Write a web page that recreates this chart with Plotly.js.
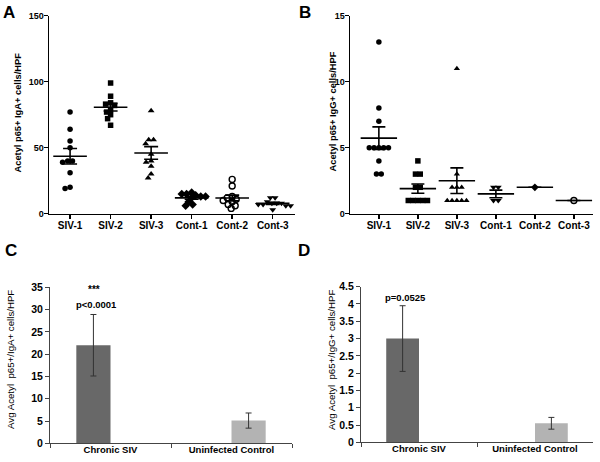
<!DOCTYPE html>
<html><head><meta charset="utf-8">
<script src="https://cdn.plot.ly/plotly-3.0.1.min.js"></script>
<style>html,body{margin:0;padding:0;background:#fff}#chart{width:600px;height:462px}</style>
</head><body><div id="chart"></div>
<script>
// ---------- data ----------
const groupsAB = ['SIV-1','SIV-2','SIV-3','Cont-1','Cont-2','Cont-3'];
// Panel A: Acetyl p65+ IgA+ cells/HPF
const A_siv1  = [77,64,55,50,40,39,40,31,20,19];
const A_siv2  = [99,89,84,83,82,79,77,75,72,67];
const A_siv3  = [78,56,56,53,45,40,39,36,30,27];
const A_cont1 = [16,15,15,14,13,13,12,9,7,6];
const A_cont2 = [26,21,13,12,11,10,9,7,6,4];
const A_cont3 = [12,12,9,8,8,8,7,7,6,6,3];
// Panel B: Acetyl p65+ IgG+ cells/HPF
const B_siv1  = [13,8,7,5,5,5,5,5,4,3,3];
const B_siv2  = [4,3,3,2,2,1,1,1,1,1];
const B_siv3  = [11,3,2,2,2,1,1,1,1,1];
const B_cont1 = [2,2,1,1];
const B_cont2 = [2];
const B_cont3 = [1];
// Panels C & D
const barCats = ['Chronic SIV','Uninfected Control'];
const C_means = [22.0, 5.1];
const C_err   = [6.9, 1.7];
const D_means = [3.0, 0.55];
const D_err   = [0.95, 0.17];

// ---------- layout geometry ----------
const W=600,H=462;
const FONT='Liberation Sans, Arial, sans-serif';
const px=(x)=>x/W, py=(y)=>(H-y)/H;
const A_dom={x:[49,295], y:[15.7,213.7], xr:[-0.52,5.55], yr:[0,150]};
const B_dom={x:[350,593], y:[15.7,213.7], xr:[-0.74,5.49], yr:[0,15]};
const C_dom={x:[50,292], y:[287.3,443.3]};
const D_dom={x:[361,593], y:[286.7,442.3]};

function mean(a){return a.reduce((s,v)=>s+v,0)/a.length;}
function sem(a){ if(a.length<2) return 0; const m=mean(a); const v=a.reduce((s,x)=>s+(x-m)*(x-m),0)/(a.length-1); return Math.sqrt(v/a.length);}

// beeswarm spread (pixel-space collision avoidance), returns x data positions
function swarm(vals, center, pxX, pxY, d){
  const idx=vals.map((v,i)=>i).sort((a,b)=>vals[b]-vals[a]);
  const placed=[]; const xs=new Array(vals.length);
  let i=0;
  while(i<idx.length){
    let j=i; while(j<idx.length && vals[idx[j]]===vals[idx[i]]) j++;
    const n=j-i; const y=vals[idx[i]]*pxY;
    let best=0;
    for(let k=0;k<600;k++){
      const c=(k%2===0?1:-1)*Math.ceil(k/2)*0.5;
      let ok=true;
      for(let m=0;m<n&&ok;m++){
        const x=c+(m-(n-1)/2)*d;
        for(const p of placed){ if(Math.hypot(p.x-x,p.y-y)<d-0.01){ok=false;break;} }
      }
      if(ok){best=c;break;}
    }
    for(let m=0;m<n;m++){const x=best+(m-(n-1)/2)*d; placed.push({x,y}); xs[idx[i+m]]=center+x/pxX;}
    i=j;
  }
  return xs;
}

const traces=[];
function dotPanel(groups, symbols, dom, xa, ya, meanW, capW, d){
  const pxX=(dom.x[1]-dom.x[0])/(dom.xr[1]-dom.xr[0]);
  const pxY=(dom.y[1]-dom.y[0])/(dom.yr[1]-dom.yr[0]);
  groups.forEach((g,gi)=>{
    const s=symbols[gi];
    traces.push({type:'scatter',mode:'markers',xaxis:xa,yaxis:ya,showlegend:false,hoverinfo:'skip',
      x:swarm(g,gi,pxX,pxY,d), y:g, cliponaxis:false,
      marker:{symbol:s.sym,size:s.size,color:'#000',line:{color:'#000',width:s.open?1.4:0}}});
  });
  traces.push({type:'scatter',mode:'markers',xaxis:xa,yaxis:ya,showlegend:false,hoverinfo:'skip',
    x:groups.map((g,i)=>i), y:groups.map(mean),
    marker:{symbol:'line-ew',size:meanW,color:'#000',line:{color:'#000',width:1.6}},
    error_y:{type:'data',array:groups.map(sem),visible:true,color:'#000',thickness:1.6,width:capW}});
}
dotPanel([A_siv1,A_siv2,A_siv3,A_cont1,A_cont2,A_cont3],
  [{sym:'circle',size:5.5},{sym:'square',size:5.5},{sym:'triangle-up',size:6},{sym:'diamond',size:6.5},{sym:'circle-open',size:6,open:true},{sym:'triangle-down',size:6}],
  A_dom,'x','y',24,7,4.8);
dotPanel([B_siv1,B_siv2,B_siv3,B_cont1,B_cont2,B_cont3],
  [{sym:'circle',size:5.5},{sym:'square',size:5.5},{sym:'triangle-up',size:5.5},{sym:'triangle-down',size:6},{sym:'diamond',size:6},{sym:'circle-open',size:6,open:true}],
  B_dom,'x2','y2',26,6.5,4.8);

const dark='#686868', light='#b3b3b3';
function barPanel(means, errs, xa, ya){
  traces.push({type:'bar',xaxis:xa,yaxis:ya,showlegend:false,hoverinfo:'skip',x:barCats,y:[means[0],null],
    marker:{color:dark},error_y:{type:'data',array:[errs[0],null],visible:true,color:'#333',thickness:1,width:3}});
  traces.push({type:'bar',xaxis:xa,yaxis:ya,showlegend:false,hoverinfo:'skip',x:barCats,y:[null,means[1]],
    marker:{color:light},error_y:{type:'data',array:[null,errs[1]],visible:true,color:'#333',thickness:1,width:3}});
}
barPanel(C_means,C_err,'x3','y3');
barPanel(D_means,D_err,'x4','y4');

function dotX(dom,ya){return {domain:[px(dom.x[0]),px(dom.x[1])],anchor:ya,range:dom.xr,tickvals:[0,1,2,3,4,5],ticktext:groupsAB,
  showline:true,linecolor:'#000',linewidth:1.5,ticks:'outside',ticklen:4,tickwidth:1.5,tickcolor:'#000',showgrid:false,zeroline:false,
  ticklabelstandoff:-2,
  tickfont:{family:FONT,size:10,color:'#000',weight:'bold'}};}
function dotY(dom,xa,tv){return {domain:[py(dom.y[1]),py(dom.y[0])],anchor:xa,range:dom.yr,tickvals:tv,
  showline:true,linecolor:'#000',linewidth:1.5,ticks:'outside',ticklen:4,tickwidth:1.5,tickcolor:'#000',showgrid:false,zeroline:false,
  ticklabelstandoff:-2,
  tickfont:{family:FONT,size:9,color:'#000',weight:'bold'}};}
function barX(dom,ya){return {domain:[px(dom.x[0]),px(dom.x[1])],anchor:ya,type:'category',showline:true,linecolor:'#444',linewidth:1,
  ticks:'outside',tickson:'boundaries',ticklen:4,tickcolor:'#444',showgrid:false,zeroline:false,
  ticklabelstandoff:-3,
  tickfont:{family:FONT,size:9.5,color:'#000',weight:'bold'}};}
function barY(dom,xa,range,dt){return {domain:[py(dom.y[1]),py(dom.y[0])],anchor:xa,range:range,dtick:dt,showline:true,linecolor:'#444',linewidth:1,
  ticks:'outside',ticklen:4,tickcolor:'#444',showgrid:false,zeroline:false,
  tickfont:{family:FONT,size:10.5,color:'#000',weight:'bold'}};}

function ann(text,x,y,size,bold,angle){return {text:text,x:px(x),y:py(y),xref:'paper',yref:'paper',showarrow:false,
  textangle:angle||0,xanchor:'center',yanchor:'middle',font:{family:FONT,size:size,color:'#000',weight:bold?'bold':'normal'}};}

const layout={width:W,height:H,margin:{l:0,r:0,t:0,b:0},paper_bgcolor:'#fff',plot_bgcolor:'rgba(0,0,0,0)',
  barmode:'group',bargap:0.435,bargroupgap:0,showlegend:false,
  xaxis:dotX(A_dom,'y'), yaxis:dotY(A_dom,'x',[0,50,100,150]),
  xaxis2:dotX(B_dom,'y2'), yaxis2:dotY(B_dom,'x2',[0,5,10,15]),
  xaxis3:barX(C_dom,'y3'), yaxis3:barY(C_dom,'x3',[0,35],5),
  xaxis4:barX(D_dom,'y4'), yaxis4:barY(D_dom,'x4',[0,4.5],0.5),
  annotations:[
    ann('A',9,13,17,true), ann('B',305,13,17,true), ann('C',11,250,17,true), ann('D',304,250,17,true),
    ann('Acetyl p65+ IgA+ cells/HPF',17,112.5,9.3,true,-90),
    ann('Acetyl p65+ IgG+ cells/HPF',333,111.5,9.3,true,-90),
    ann('Avg Acetyl  p65+/IgA+ cells/HPF',10,360,9.7,false,-90),
    ann('Avg Acetyl  p65+/IgG+ cells/HPF',331,360,9.7,false,-90),
    ann('***',94,289,10,true), ann('p<0.0001',97,304.7,9.5,true),
    ann('p=0.0525',405,297.7,9.5,true)
  ]};
Plotly.newPlot('chart',traces,layout,{staticPlot:true,displayModeBar:false});
</script></body></html>
